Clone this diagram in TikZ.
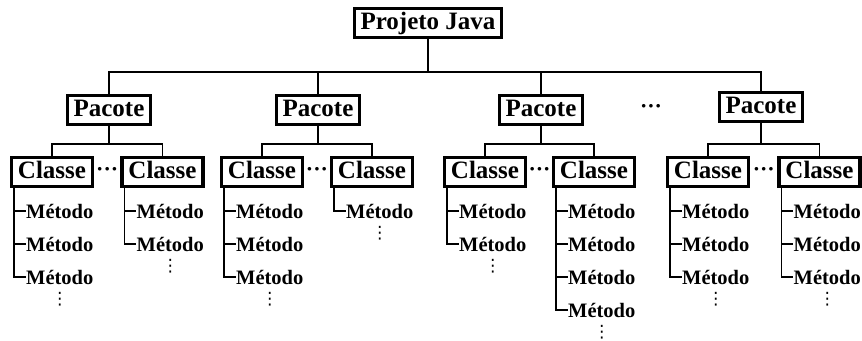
\documentclass[tikz,border=0pt]{standalone}
\usepackage{fontspec}
\setmainfont{Liberation Serif}
\newfontfamily\symfont{DejaVu Sans}
\usetikzlibrary{positioning,calc}

\begin{document}
\begin{tikzpicture}[x=1pt, y=-1pt,
    box/.style={draw, line width=3.2pt, font=\fontsize{25}{25}\selectfont\bfseries,
        inner xsep=6.4pt, inner ysep=0pt, text height=17.5pt, text depth=5pt, minimum height=29pt},
    link/.style={line width=1.9pt},
    metodo/.style={font=\fontsize{20.5}{20.5}\selectfont\bfseries, anchor=west, inner sep=0.5pt},
    hdots/.style={font=\fontsize{22}{22}\selectfont\bfseries, inner sep=0pt},
    vdot/.style={font=\fontsize{17}{17}\selectfont\symfont, inner sep=0pt}]
    \useasboundingbox (0,0) rectangle (862,340);

    % Root
    \node[box] (proj) at (428,23) {Projeto Java};

    % Packages
    \node[box] (p1) at (109,110) {Pacote};
    \node[box] (p2) at (318,110) {Pacote};
    \node[box] (p3) at (541,110) {Pacote};
    \node[box] (p4) at (761,107) {Pacote};
    \node[hdots] (dp) at ($(p3.east)!.5!(p4.west)$) {···};
    \foreach \p in {1,...,4}
        \draw[link] (proj.south) |- (p\p.north |- 0,72) -- (p\p.north);

    % Classes and their methods
    \foreach \c/\p/\x/\n in {1/1/52/3, 2/1/162.5/2, 3/2/262/3, 4/2/372/1,
                             5/3/485/2, 6/3/594/4, 7/4/708/3, 8/4/819.5/3} {
        \node[box] (c\c) at (\x,172) {Classe};
        \draw[link] (p\p.south) |- (c\c.north |- 0,144) -- (c\c.north);
        \coordinate (t\c) at ($(c\c.south west)+(4,0)$);
        \foreach \i in {1,...,\n} {
            \node[metodo] (m\c-\i) at (\x-26.5, {211+33*(\i-1)}) {Método};
            \draw[link] (t\c |- m\c-\i.west) -- (m\c-\i.west);
        }
        \draw[link] (t\c) |- (m\c-\n.west);
        \node[vdot] (v\c) at ($(m\c-\n.center)+(0,22)$) {⋮};
    }

    % Dots between sibling classes
    \node[hdots] (d1) at ($(c1.east)!.5!(c2.west)$) {···};
    \node[hdots] (d2) at ($(c3.east)!.5!(c4.west)$) {···};
    \node[hdots] (d3) at ($(c5.east)!.5!(c6.west)$) {···};
    \node[hdots] (d4) at ($(c7.east)!.5!(c8.west)$) {···};
\end{tikzpicture}
\end{document}
